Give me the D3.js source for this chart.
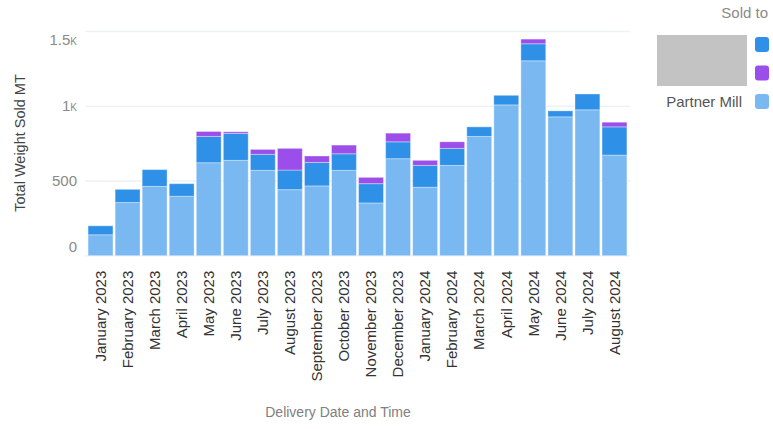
<!DOCTYPE html>
<html>
<head>
<meta charset="utf-8">
<script src="https://cdn.jsdelivr.net/npm/d3@7"></script>
<style>
  body { margin: 0; background: #fff; }
  text { font-family: "Liberation Sans", Arial, sans-serif; }
</style>
</head>
<body>
<script>
// months on the x axis
var months = ["January 2023", "February 2023", "March 2023", "April 2023", "May 2023", "June 2023",
    "July 2023", "August 2023", "September 2023", "October 2023", "November 2023", "December 2023",
    "January 2024", "February 2024", "March 2024", "April 2024", "May 2024", "June 2024",
    "July 2024", "August 2024"];

// stacked series, bottom to top
var partnerMill = [140, 356, 464, 398, 622, 638, 571, 442, 467, 571, 353, 649, 458, 604, 798, 1009, 1304, 929, 976, 673];
var soldBlue    = [60, 88, 112, 84, 176, 180, 107, 131, 157, 111, 129, 113, 146, 114, 64, 64, 114, 40, 106, 189];
var soldPurple  = [0, 0, 0, 0, 33, 11, 33, 145, 43, 58, 42, 58, 34, 44, 0, 0, 31, 0, 0, 31];

var yTicks = [0, 500, 1000, 1500];
var seriesKeys = ["partner", "blue", "purple"];
var colors = {partner: "#79b8f1", blue: "#2f90e8", purple: "#9b4ee9"};

var W = 773, H = 429;
var plot = {left: 85, right: 630, top: 31.5, bottom: 255.7};

var rows = months.map(function (m, i) {
    return {month: m, partner: partnerMill[i], blue: soldBlue[i], purple: soldPurple[i]};
});

var svg = d3.select("body").append("svg")
    .attr("width", W)
    .attr("height", H);

x = d3.scaleBand().domain(months).range([87, 628]).paddingInner(0.08).paddingOuter(0.04);
y = d3.scaleLinear().domain([0, 1500]).range([plot.bottom, plot.top]);

// grid
svg.append("g")
    .selectAll("line")
    .data(yTicks)
    .enter().append("line")
    .attr("x1", plot.left)
    .attr("x2", plot.right)
    .attr("y1", function (d) { return y(d) })
    .attr("y2", function (d) { return y(d) })
    .style("stroke", "#edf2f7")
    .style("stroke-width", 1.5);

// y tick labels (kept inside the plot band like the original)
var yLab = svg.append("g").selectAll("text")
    .data(yTicks)
    .enter().append("text")
    .attr("x", 77)
    .attr("y", function (d) { return Math.min(Math.max(y(d), plot.top + 8), plot.bottom - 9) })
    .attr("dy", "0.35em")
    .attr("text-anchor", "end")
    .style("font-size", "15px")
    .style("fill", "#8a8a8a");
yLab.each(function (d) {
    var t = d3.select(this);
    if (d >= 1000) {
        t.append("tspan").text(d3.format("~g")(d / 1000));
        t.append("tspan").text("K").style("font-size", "10px");
    } else {
        t.text(d);
    }
});

// stacked bars
var stack = d3.stack().keys(seriesKeys)(rows);

svg.append("g")
    .selectAll("g")
    .data(stack)
    .enter().append("g")
    .style("fill", function (d) { return colors[d.key] })
    .selectAll("rect")
    .data(function (d) { return d.filter(function (p) { return p[1] > p[0] }) })
    .enter().append("rect")
    .attr("x", function (d) { return x(d.data.month) })
    .attr("width", x.bandwidth())
    .attr("y", function (d) { return y(d[1]) })
    .attr("height", function (d) { return y(d[0]) - y(d[1]) })
    .style("stroke", "#ffffff")
    .style("stroke-opacity", 0.35)
    .style("stroke-width", 1);

// x axis labels
var xAxis = svg.append("g")
    .attr("transform", "translate(0," + plot.bottom + ")")
    .call(d3.axisBottom(x).tickSize(0).tickPadding(0));
xAxis.select(".domain").remove();
xAxis.selectAll("text")
    .attr("transform", "rotate(-90)")
    .attr("x", -15)
    .attr("y", 0)
    .attr("dy", "0.35em")
    .attr("text-anchor", "end")
    .style("font-family", "'Liberation Sans', Arial, sans-serif")
    .style("font-size", "15px")
    .style("fill", "#333");

// axis titles
svg.append("text")
    .attr("transform", "translate(20,143) rotate(-90)")
    .attr("text-anchor", "middle")
    .attr("dy", "0.35em")
    .style("font-size", "14.5px")
    .style("fill", "#444")
    .text("Total Weight Sold MT");

svg.append("text")
    .attr("x", 338)
    .attr("y", 412)
    .attr("dy", "0.35em")
    .attr("text-anchor", "middle")
    .style("font-size", "14px")
    .style("fill", "#808080")
    .text("Delivery Date and Time");

// legend
var legend = svg.append("g");
legend.append("text")
    .attr("x", 768)
    .attr("y", 13)
    .attr("dy", "0.35em")
    .attr("text-anchor", "end")
    .style("font-size", "15px")
    .style("fill", "#8a8a8a")
    .text("Sold to");

legend.append("rect")
    .attr("x", 657).attr("y", 35)
    .attr("width", 90).attr("height", 51)
    .style("fill", "#c3c3c3");

var legendKeys = ["blue", "purple", "partner"];
legend.selectAll(".sw")
    .data(legendKeys)
    .enter().append("rect")
    .attr("class", "sw")
    .attr("x", 755)
    .attr("y", function (d, i) { return 37 + i * 28.5 })
    .attr("width", 14).attr("height", 15)
    .attr("rx", 3)
    .style("fill", function (d) { return colors[d] });

legend.append("text")
    .attr("x", 742)
    .attr("y", 101.5)
    .attr("dy", "0.35em")
    .attr("text-anchor", "end")
    .style("font-size", "15px")
    .style("fill", "#555")
    .text("Partner Mill");
</script>
</body>
</html>
